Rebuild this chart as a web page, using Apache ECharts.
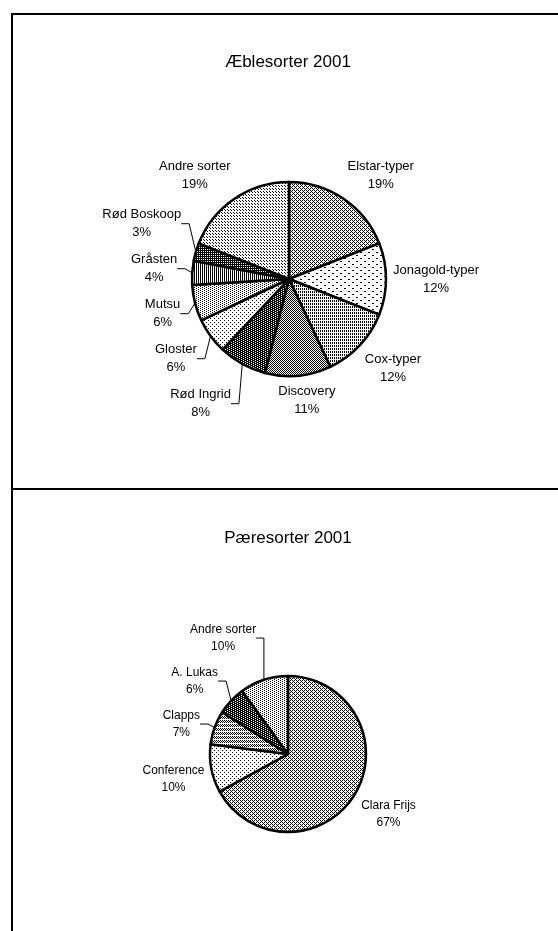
<!DOCTYPE html>
<html>
<head>
<meta charset="utf-8">
<script src="https://cdn.jsdelivr.net/npm/echarts@6/dist/echarts.min.js"></script>
<style>
html, body { margin: 0; padding: 0; background: #fff; }
#chart { width: 558px; height: 931px; }
</style>
</head>
<body>
<div id="chart"></div>
<script>
var appleTitle = 'Æblesorter 2001';
var appleNames = ['Elstar-typer', 'Jonagold-typer', 'Cox-typer', 'Discovery', 'Rød Ingrid',
    'Gloster', 'Mutsu', 'Gråsten', 'Rød Boskoop', 'Andre sorter'];
var appleValues = [19, 12, 12, 11, 8, 6, 6, 4, 3, 19];

var pearTitle = 'Pæresorter 2001';
var pearNames = ['Clara Frijs', 'Conference', 'Clapps', 'A. Lukas', 'Andre sorter'];
var pearValues = [67, 10, 7, 6, 10];

// black/white fill patterns, one string per pixel row ('1' = black)
var applePatterns = [
    ['1010', '0100', '1010', '0001'],
    ['11000000', '00000000', '00000000', '00001100', '00000000', '00000000'],
    ['10', '10', '00'],
    ['10', '01'],
    ['1110', '1011'],
    ['1000', '0000', '0010', '0000'],
    ['1000', '0010'],
    ['10', '10'],
    ['11', '10'],
    ['100', '000', '001']
];
var pearPatterns = [
    ['1010', '0100', '1010', '0001'],
    ['1000', '0000', '0010', '0000'],
    ['10', '01', '10', '00'],
    ['1110', '1011'],
    ['1000', '0010']
];
// which labels get a leader line
var appleLeaders = [0, 0, 0, 0, 1, 1, 1, 1, 1, 0];
var pearLeaders = [0, 0, 1, 1, 1];

function makePattern(rows) {
    var c = document.createElement('canvas');
    c.width = rows[0].length;
    c.height = rows.length;
    var ctx = c.getContext('2d');
    ctx.fillStyle = '#fff';
    ctx.fillRect(0, 0, c.width, c.height);
    ctx.fillStyle = '#000';
    rows.forEach(function (row, y) {
        for (var x = 0; x < row.length; x++) {
            if (row[x] === '1') ctx.fillRect(x, y, 1, 1);
        }
    });
    return { image: c, repeat: 'repeat' };
}

function pieSeries(names, values, patterns, leaders, center, radius, fontSize, lineHeight) {
    return {
        type: 'pie',
        center: center,
        radius: radius,
        startAngle: 90,
        clockwise: true,
        avoidLabelOverlap: false,
        percentPrecision: 0,
        silent: true,
        animation: false,
        itemStyle: { borderColor: '#000', borderWidth: 2.5 },
        label: {
            show: true,
            position: 'outside',
            formatter: '{b}\n{d}%',
            color: '#000',
            fontFamily: '"Liberation Sans", Arial, sans-serif',
            fontSize: fontSize,
            lineHeight: lineHeight
        },
        labelLine: { show: true, length: 7, length2: 8, lineStyle: { color: '#000', width: 1 } },
        emphasis: { disabled: true },
        data: names.map(function (n, i) {
            return {
                name: n,
                value: values[i],
                itemStyle: { color: makePattern(patterns[i]) },
                labelLine: { lineStyle: { opacity: leaders[i] ? 1 : 0 } }
            };
        })
    };
}

var chart = echarts.init(document.getElementById('chart'));

var rec = [[], []];
function record(p) {
    var pts = p.labelLinePoints;
    if (pts) {
        rec[p.seriesIndex][p.dataIndex] = {
            p0: pts[0], p1: pts[1], w: p.labelRect.width, h: p.labelRect.height
        };
    }
    return {};
}

var s1 = pieSeries(appleNames, appleValues, applePatterns, appleLeaders, [289, 279], 97, 13, 18);
var s2 = pieSeries(pearNames, pearValues, pearPatterns, pearLeaders, [288, 754], 78, 12, 17);
s1.labelLayout = record;
s2.labelLayout = record;

chart.setOption({
    backgroundColor: '#fff',
    animation: false,
    graphic: [
        { type: 'polyline', silent: true, shape: { points: [[12, 940], [12, 14], [565, 14]] },
          style: { stroke: '#000', lineWidth: 2, fill: null } },
        { type: 'line', silent: true, shape: { x1: 12, y1: 489, x2: 565, y2: 489 },
          style: { stroke: '#000', lineWidth: 2 } },
        { type: 'text', silent: true, x: 288, y: 62,
          style: { text: appleTitle, fill: '#000', fontSize: 17, fontFamily: '"Liberation Sans", Arial',
                   align: 'center', verticalAlign: 'middle' } },
        { type: 'text', silent: true, x: 288, y: 538,
          style: { text: pearTitle, fill: '#000', fontSize: 17, fontFamily: '"Liberation Sans", Arial',
                   align: 'center', verticalAlign: 'middle' } }
    ],
    series: [s1, s2]
});

// excel-like placement: label corner just off the slice, then spread stacked labels per side
function clamp(v) { return Math.max(-1, Math.min(1, v)); }
function placeLabels(list, leaders) {
    var gap = 9;
    var out = list.map(function (r, i) {
        var dx = r.p1[0] - r.p0[0], dy = r.p1[1] - r.p0[1];
        var len = Math.sqrt(dx * dx + dy * dy) || 1;
        var ux = dx / len, uy = dy / len;
        return {
            x: r.p1[0] + clamp(ux * 3) * r.w / 2 + (leaders[i] ? (ux < 0 ? -8 : 8) : 0),
            y0: r.p1[1] + clamp(uy * 3) * r.h / 2,
            h: r.h, ux: ux
        };
    });
    [-1, 1].forEach(function (side) {
        var col = out.filter(function (o) {
            return (o.ux < 0 ? -1 : 1) === side && Math.abs(o.ux) > 0.2;
        }).sort(function (a, b) { return a.y0 - b.y0; });
        var clusters = [];
        function fit(c) {
            var off = 0, s = 0;
            c.items.forEach(function (o) { o.off = off + o.h / 2; s += o.y0 - o.off; off += o.h + gap; });
            c.T = s / c.items.length;
            c.H = off - gap;
        }
        col.forEach(function (o) {
            var c = { items: [o] };
            fit(c);
            clusters.push(c);
            while (clusters.length > 1) {
                var a = clusters[clusters.length - 2], b = clusters[clusters.length - 1];
                if (a.T + a.H + gap <= b.T) break;
                a.items = a.items.concat(b.items);
                fit(a);
                clusters.pop();
            }
        });
        clusters.forEach(function (c) {
            c.items.forEach(function (o) { o.y = c.T + o.off; });
        });
    });
    out.forEach(function (o) { if (o.y == null) o.y = o.y0; });
    return out;
}

var placed = [placeLabels(rec[0], appleLeaders), placeLabels(rec[1], pearLeaders)];
function applyLayout(p) {
    var o = placed[p.seriesIndex][p.dataIndex];
    if (!o) return {};
    return { x: o.x, y: o.y, align: 'center', verticalAlign: 'middle' };
}
chart.setOption({ series: [{ labelLayout: applyLayout }, { labelLayout: applyLayout }] });
</script>
</body>
</html>
